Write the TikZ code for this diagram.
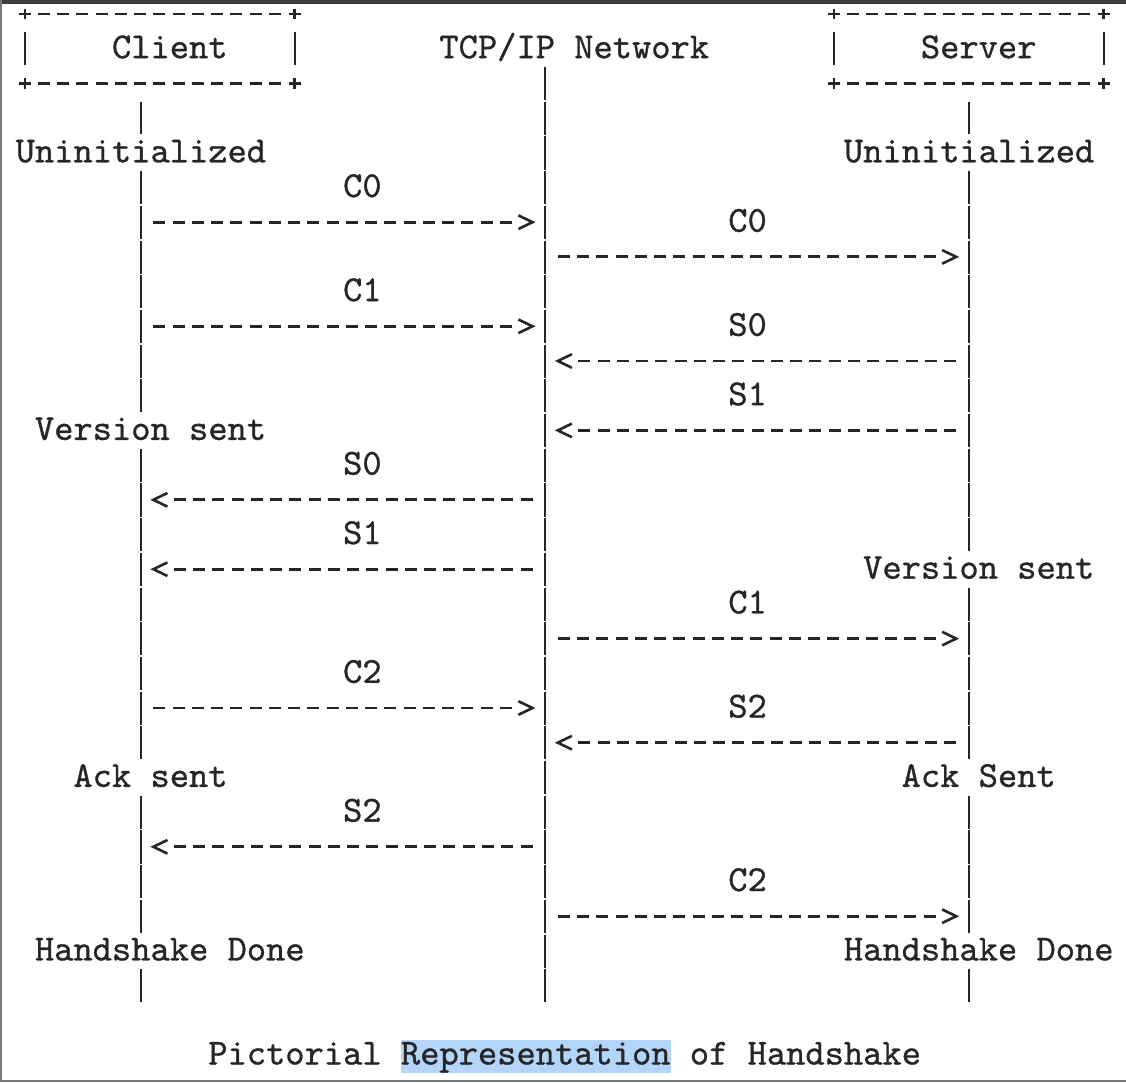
\documentclass[tikz,border=0pt]{standalone}
\usepackage{fontspec}
\newfontfamily\asc{lmmono10-regular.otf}[FakeBold=0.8]
\usetikzlibrary{decorations.markings}
\definecolor{ink}{HTML}{262626}
\definecolor{hl}{HTML}{B4D5FA}
\definecolor{topbar}{HTML}{3C3C3C}
\definecolor{edge}{HTML}{7A7A7A}
\newcommand{\hlbox}[1]{{\setlength{\fboxsep}{0pt}\colorbox{hl}{\rule[-7.8pt]{0pt}{32.3pt}#1}}}
\begin{document}
\begin{tikzpicture}[x=1pt,y=-1pt,
  declare function={gx(\c)=15.5+19.26*\c; gy(\r)=14+34.7*\r;},
  txt/.style={inner sep=0pt, anchor=base west, text height=26.85pt, text depth=7.85pt,
    font=\asc\fontsize{36.69pt}{40pt}\selectfont, text=ink},
  life/.style={draw=ink, line width=2.2pt, dash pattern=on 33.1pt off 1.6pt,
    shorten <=0.8pt, shorten >=0.8pt},
  dashrow/.style={draw=ink, line width=2.9pt, dash pattern=on 12pt off 7.26pt},
  msg/.style={dashrow, shorten <=12.63pt, shorten >=33.15pt,
    postaction={decorate},
    decoration={markings, mark=at position 0.9999 with {
      \draw[solid, draw=ink, line width=2.6pt, shorten <=0pt, shorten >=0pt, line join=miter]
        (-26.7,6.8) -- (-12.6,0) -- (-26.7,-6.8);}}},
  boxedge/.style={dashrow, shorten <=12.63pt, shorten >=13.89pt},
  boxside/.style={life, shorten <=18.15pt, shorten >=18.15pt},
  plusm/.pic={\draw[draw=ink, line width=2.6pt] (-6,0) -- (6,0) (0,-5.4) -- (0,5.4);}
]
% page, frame
\fill[white] (0,0) rectangle (1126,1082);
\fill[topbar] (0,0) rectangle (1126,3.5);
\fill[edge] (0,0) rectangle (1.5,1082);
\fill[edge] (0,1079.5) rectangle (1126,1082);
\useasboundingbox (0,0) rectangle (1126,1082);

% boxes
\coordinate (cbnw) at ({gx(0.5)},{gy(0)});
\coordinate (cbne) at ({gx(14.5)},{gy(0)});
\coordinate (cbsw) at ({gx(0.5)},{gy(2)});
\coordinate (cbse) at ({gx(14.5)},{gy(2)});
\coordinate (sbnw) at ({gx(42.5)},{gy(0)});
\coordinate (sbne) at ({gx(56.5)},{gy(0)});
\coordinate (sbsw) at ({gx(42.5)},{gy(2)});
\coordinate (sbse) at ({gx(56.5)},{gy(2)});
\foreach \a/\b in {cbnw/cbne, cbsw/cbse, sbnw/sbne, sbsw/sbse} \draw[boxedge] (\a) -- (\b);
\foreach \a/\b in {cbnw/cbsw, cbne/cbse, sbnw/sbsw, sbne/sbse} \draw[boxside] (\a) -- (\b);
\foreach \p in {cbnw,cbne,cbsw,cbse,sbnw,sbne,sbsw,sbse} \pic at (\p) {plusm};

% texts
\node[txt] (client) at ({gx(5)},{gy(1)+9.5}) {Client};
\node[txt] (tcp) at ({gx(22)},{gy(1)+9.5}) {TCP/IP Network};
\node[txt] (server) at ({gx(47)},{gy(1)+9.5}) {Server};
\node[txt] (uL) at ({gx(0)},{gy(4)+9.5}) {Uninitialized};
\node[txt] (uR) at ({gx(43)},{gy(4)+9.5}) {Uninitialized};
\node[txt] (l5) at ({gx(17)},{gy(5)+9.5}) {C0};
\node[txt] (r6) at ({gx(37)},{gy(6)+9.5}) {C0};
\node[txt] (l8) at ({gx(17)},{gy(8)+9.5}) {C1};
\node[txt] (r9) at ({gx(37)},{gy(9)+9.5}) {S0};
\node[txt] (r11) at ({gx(37)},{gy(11)+9.5}) {S1};
\node[txt] (vL) at ({gx(1)},{gy(12)+9.5}) {Version sent};
\node[txt] (l13) at ({gx(17)},{gy(13)+9.5}) {S0};
\node[txt] (l15) at ({gx(17)},{gy(15)+9.5}) {S1};
\node[txt] (vR) at ({gx(44)},{gy(16)+9.5}) {Version sent};
\node[txt] (r17) at ({gx(37)},{gy(17)+9.5}) {C1};
\node[txt] (l19) at ({gx(17)},{gy(19)+9.5}) {C2};
\node[txt] (r20) at ({gx(37)},{gy(20)+9.5}) {S2};
\node[txt] (aL) at ({gx(3)},{gy(22)+9.5}) {Ack sent};
\node[txt] (aR) at ({gx(46)},{gy(22)+9.5}) {Ack Sent};
\node[txt] (l23) at ({gx(17)},{gy(23)+9.5}) {S2};
\node[txt] (r25) at ({gx(37)},{gy(25)+9.5}) {C2};
\node[txt] (hL) at ({gx(1)},{gy(27)+9.5}) {Handshake Done};
\node[txt] (hR) at ({gx(43)},{gy(27)+9.5}) {Handshake Done};
\node[txt] (cap) at ({gx(10)},{gy(30)+9.5}) {Pictorial \hlbox{Representation} of Handshake};

% lifelines
\coordinate (cl) at ({gx(6.5)},{gy(2.5)});
\coordinate (cle) at ({gx(6.5)},{gy(28.5)});
\coordinate (sl) at ({gx(49.5)},{gy(2.5)});
\coordinate (sle) at ({gx(49.5)},{gy(28.5)});
\coordinate (nle) at ({gx(27.5)},{gy(28.5)});
\draw[life] (cl) -- (cl |- uL.north);
\draw[life] (cl |- uL.south) -- (cl |- vL.north);
\draw[life] (cl |- vL.south) -- (cl |- aL.north);
\draw[life] (cl |- aL.south) -- (cl |- hL.north);
\draw[life] (cl |- hL.south) -- (cle);
\draw[life] (tcp.south -| nle) -- (nle);
\draw[life] (sl) -- (sl |- uR.north);
\draw[life] (sl |- uR.south) -- (sl |- vR.north);
\draw[life] (sl |- vR.south) -- (sl |- aR.north);
\draw[life] (sl |- aR.south) -- (sl |- hR.north);
\draw[life] (sl |- hR.south) -- (sle);

% message end points on the lifelines
\foreach \r in {6,7,9,10,12,14,16,18,20,21,24,26} {
  \coordinate (C\r) at ({gx(6.5)},{gy(\r)});
  \coordinate (N\r) at ({gx(27.5)},{gy(\r)});
  \coordinate (S\r) at ({gx(49.5)},{gy(\r)});
}
\draw[msg] (C6) -- (N6);
\draw[msg] (N7) -- (S7);
\draw[msg] (C9) -- (N9);
\draw[msg] (S10) -- (N10);
\draw[msg] (S12) -- (N12);
\draw[msg] (N14) -- (C14);
\draw[msg] (N16) -- (C16);
\draw[msg] (N18) -- (S18);
\draw[msg] (C20) -- (N20);
\draw[msg] (S21) -- (N21);
\draw[msg] (N24) -- (C24);
\draw[msg] (N26) -- (S26);
\end{tikzpicture}
\end{document}
